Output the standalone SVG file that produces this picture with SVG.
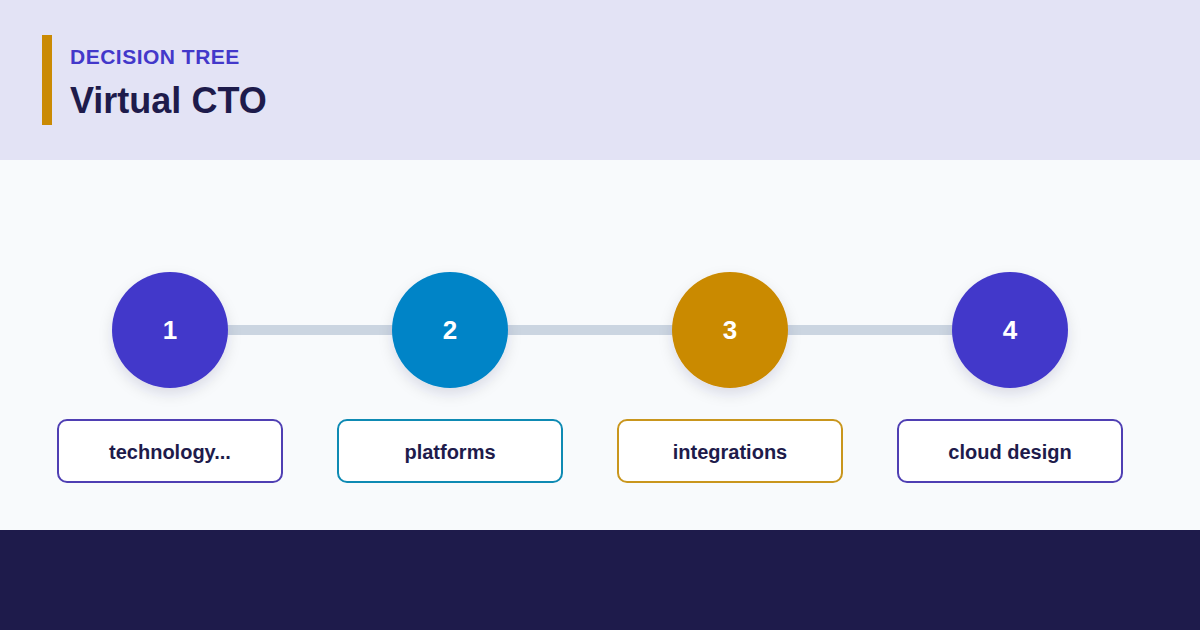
<svg xmlns="http://www.w3.org/2000/svg" width="1200" height="630" viewBox="0 0 1200 630">
<defs>
<style>
.num{font-family:"Liberation Sans",Arial,sans-serif;font-weight:bold;font-size:26px;fill:#ffffff;text-anchor:middle}
.lbl{font-family:"Liberation Sans",Arial,sans-serif;font-weight:bold;font-size:20px;fill:#1e1b4b;text-anchor:middle}
.box{fill:#ffffff;stroke-width:2}
</style>
<filter id="sh" x="-40%" y="-40%" width="180%" height="180%">
<feDropShadow dx="0" dy="6" stdDeviation="7" flood-color="#1e1b4b" flood-opacity="0.12"/>
</filter>
</defs>
<rect x="0" y="0" width="1200" height="160" fill="#e3e3f5"/>
<rect x="0" y="160" width="1200" height="370" fill="#f8fafc"/>
<rect x="0" y="530" width="1200" height="100" fill="#1e1b4b"/>
<rect x="42" y="35" width="10" height="90" fill="#ca8a04"/>
<text x="70" y="64" font-family="Liberation Sans,Arial,sans-serif" font-weight="bold" font-size="21" letter-spacing="0.5" fill="#4338ca">DECISION TREE</text>
<text x="70" y="113" font-family="Liberation Sans,Arial,sans-serif" font-weight="bold" font-size="36" fill="#1e1b4b">Virtual CTO</text>
<g id="connectors">
<line x1="170" y1="330" x2="1010" y2="330" stroke="#cbd5e1" stroke-width="10"/>
</g>
<g id="node1">
<circle cx="170" cy="330" r="58" fill="#4338ca" filter="url(#sh)"/>
<text class="num" x="170" y="339">1</text>
<rect class="box" x="58" y="420" width="224" height="62" rx="9" stroke="#4f3fb3"/>
<text class="lbl" x="170" y="459">technology...</text>
</g>
<g id="node2">
<circle cx="450" cy="330" r="58" fill="#0284c7" filter="url(#sh)"/>
<text class="num" x="450" y="339">2</text>
<rect class="box" x="338" y="420" width="224" height="62" rx="9" stroke="#0e8ab3"/>
<text class="lbl" x="450" y="459">platforms</text>
</g>
<g id="node3">
<circle cx="730" cy="330" r="58" fill="#ca8a04" filter="url(#sh)"/>
<text class="num" x="730" y="339">3</text>
<rect class="box" x="618" y="420" width="224" height="62" rx="9" stroke="#c9961d"/>
<text class="lbl" x="730" y="459">integrations</text>
</g>
<g id="node4">
<circle cx="1010" cy="330" r="58" fill="#4338ca" filter="url(#sh)"/>
<text class="num" x="1010" y="339">4</text>
<rect class="box" x="898" y="420" width="224" height="62" rx="9" stroke="#4f3fb3"/>
<text class="lbl" x="1010" y="459">cloud design</text>
</g>
</svg>
